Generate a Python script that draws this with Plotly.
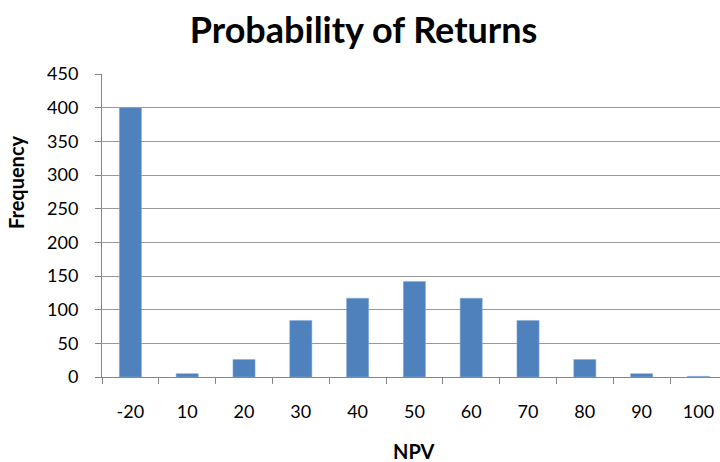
import plotly.graph_objects as go

categories = ["-20", "10", "20", "30", "40", "50", "60", "70", "80", "90", "100"]
frequency = [400, 5, 26, 84, 117, 142, 117, 84, 26, 5, 1]
y_ticks = [0, 50, 100, 150, 200, 250, 300, 350, 400, 450]

fig = go.Figure(go.Bar(
    x=categories, y=frequency,
    marker=dict(color="#4F81BD", line=dict(color="#8CAEDB", width=0.5)),
    width=0.39,
))

font = "Lato, 'Open Sans', sans-serif"
fig.update_layout(
    width=720, height=462,
    margin=dict(l=102, r=0, t=74, b=85, pad=0, autoexpand=False),
    paper_bgcolor="white", plot_bgcolor="white",
    title=dict(text="<b>Probability of Returns</b>", x=0.505, xanchor="center",
               xref="container", y=0.935, yref="container", yanchor="middle",
               font=dict(family=font, size=36, color="black"), automargin=False),
    showlegend=False,
    font=dict(family=font, size=18, color="black"),
    annotations=[
        dict(text="<b>NPV</b>", xref="paper", yref="paper", x=0.505, y=-0.245,
             xanchor="center", yanchor="middle", showarrow=False,
             font=dict(family=font, size=20, color="black")),
        dict(text="<b>Frequency</b>", xref="paper", yref="paper", x=-0.14, y=0.645,
             xanchor="center", yanchor="middle", showarrow=False, textangle=-90,
             font=dict(family=font, size=20, color="black")),
    ],
)
fig.update_xaxes(
    type="category", range=[-0.5, 10.38], automargin=False,
    tickson="boundaries", ticks="outside", ticklen=6, tickcolor="#868686",
    showline=True, linecolor="#868686", linewidth=1,
    showgrid=False,
    tickfont=dict(size=18), ticklabelstandoff=18,
)
fig.update_yaxes(
    range=[0, 450], tickvals=y_ticks, automargin=False,
    ticks="outside", ticklen=6, tickcolor="#868686",
    showline=True, linecolor="#868686", linewidth=1,
    showgrid=True, gridcolor="#999999", gridwidth=1,
    zeroline=False,
    tickfont=dict(size=18), ticklabelstandoff=13,
)

fig.write_html(
    "out.html",
    config={"displayModeBar": False},
    post_script="document.body.style.margin='0';document.body.style.overflow='hidden';",
)
